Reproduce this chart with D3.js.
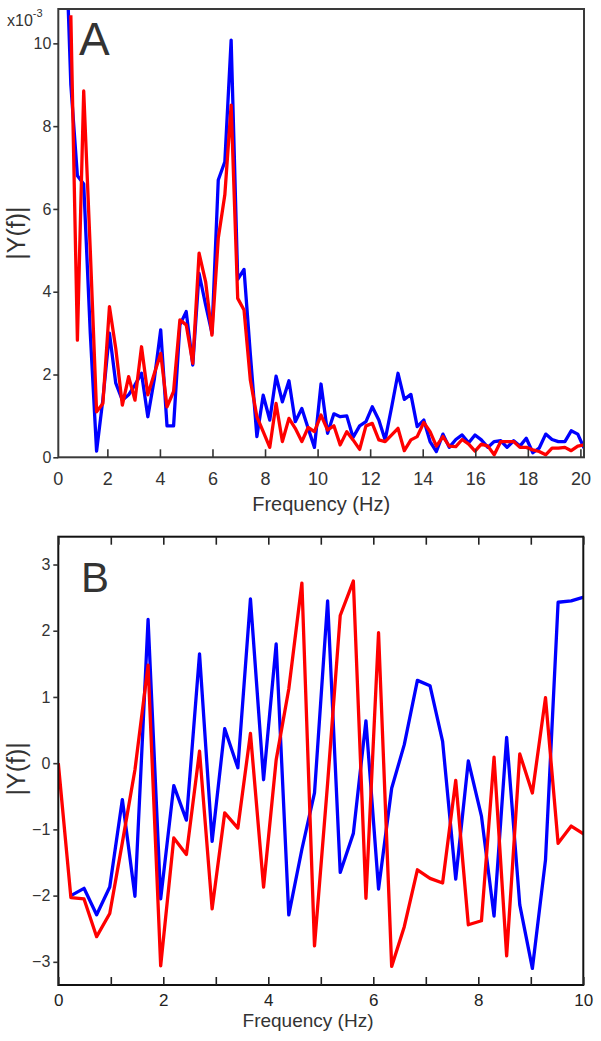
<!DOCTYPE html>
<html><head><meta charset="utf-8">
<script src="https://cdn.jsdelivr.net/npm/d3@7"></script>
<style>body{margin:0;background:#fff}svg{display:block}</style>
</head><body>
<svg id="c" width="601" height="1041"></svg>
<script>
// ---------- Panel A data (|Y(f)| x10^-3) ----------
const freqA = [0.37,0.61,0.86,1.10,1.35,1.59,1.83,2.08,2.32,2.57,2.81,3.05,3.30,3.54,3.79,4.03,4.27,4.52,4.76,5.00,
  5.25,5.49,5.74,5.98,6.22,6.47,6.71,6.96,7.20,7.44,7.69,7.93,8.18,8.42,8.66,8.91,9.15,9.40,9.64,9.88,
  10.13,10.38,10.62,10.86,11.11,11.35,11.60,11.84,12.08,12.33,12.57,12.82,13.06,13.30,13.55,13.79,14.04,14.28,14.52,14.77,
  15.01,15.26,15.50,15.75,15.99,16.23,16.48,16.72,16.97,17.21,17.46,17.70,17.94,18.19,18.43,18.68,18.92,19.16,19.41,19.65,19.90,20.14];
const blueA = [13.5,9.0,6.8,6.6,3.0,0.15,1.4,3.00,1.79,1.38,1.51,1.75,2.03,0.98,1.9,3.08,0.76,0.76,3.20,3.52,
  2.23,4.44,3.68,3.00,6.70,7.14,10.08,4.3,4.54,2.5,0.50,1.50,0.90,1.96,1.34,1.85,0.86,1.18,0.70,0.24,
  1.77,0.58,1.05,0.98,1.00,0.48,0.76,0.86,1.22,0.90,0.42,1.22,2.03,1.40,1.52,0.74,0.90,0.38,0.14,0.56,
  0.24,0.43,0.54,0.35,0.54,0.42,0.24,0.38,0.40,0.24,0.40,0.27,0.46,0.11,0.22,0.56,0.43,0.38,0.38,0.64,0.56,0.22];
const redA = [null,10.68,2.83,8.85,5.0,1.10,1.30,3.64,2.63,1.26,1.95,1.38,2.67,1.51,2.03,2.51,1.22,1.59,3.32,3.20,
  2.27,4.93,4.24,2.95,5.29,6.34,8.51,3.84,3.56,1.87,0.98,0.62,0.24,1.30,0.38,0.94,0.70,0.38,0.72,0.62,
  1.02,0.66,0.76,0.30,0.62,0.42,0.19,0.76,0.82,0.42,0.38,0.54,0.70,0.16,0.42,0.50,0.84,0.62,0.27,0.50,
  0.27,0.26,0.43,0.32,0.15,0.32,0.27,0.06,0.38,0.38,0.38,0.24,0.24,0.18,0.14,0.06,0.22,0.22,0.24,0.16,0.27,0.30];
const xTicksA = [2,4,6,8,10,12,14,16,18,20];
const yTicksA = [0,2,4,6,8,10];

// ---------- Panel B data ----------
const freqB = [0,0.24,0.49,0.73,0.98,1.22,1.46,1.71,1.95,2.20,2.44,2.69,2.93,3.17,3.42,3.66,3.91,4.15,4.39,4.64,4.88,
  5.13,5.37,5.62,5.86,6.10,6.35,6.59,6.84,7.08,7.32,7.57,7.81,8.06,8.30,8.54,8.79,9.03,9.28,9.52,9.77,10.01];
const blueB = [null,-2.0,-1.89,-2.29,-1.87,-0.55,-2.01,2.17,-2.05,-0.34,-0.86,1.65,-1.18,0.52,-0.07,2.48,-0.25,1.80,-2.29,-1.3,-0.45,
  2.45,-1.65,-1.06,0.64,-1.90,-0.38,0.28,1.25,1.17,0.33,-1.75,0.035,-0.80,-2.31,0.39,-2.14,-3.10,-1.46,2.43,2.45,2.51];
const redB = [0,-2.03,-2.05,-2.62,-2.27,-1.2,-0.1,1.48,-3.06,-1.13,-1.38,0.18,-2.20,-0.75,-0.98,0.45,-1.87,0.05,1.12,2.72,-2.76,
  -0.3,2.23,2.75,-2.04,1.97,-3.07,-2.47,-1.61,-1.74,-1.81,-0.26,-2.44,-2.38,0.09,-2.91,0.14,-0.45,0.99,-1.21,-0.95,-1.07];
const xTicksB = [0,1,2,3,4,5,6,7,8,9,10];
const yTicksB = [-3,-2,-1,0,1,2,3];

const FONT = '"Liberation Sans", Arial, Helvetica, sans-serif';
const svg = d3.select('#c');

function panel(o){
  const g = svg.append('g');
  const {L,T,R,B} = o.frame;
  const clipId = 'clip' + o.name;
  svg.append('defs').append('clipPath').attr('id', clipId)
    .append('rect').attr('x', L).attr('y', T).attr('width', R-L).attr('height', B-T);

  const lineGen = d3.line().defined(d => d[1] != null)
    .x(d => o.x(d[0])).y(d => o.y(d[1]));
  const lg = g.append('g').attr('clip-path', `url(#${clipId})`);
  o.series.forEach(s => {
    lg.append('path')
      .datum(o.freq.map((f,i) => [f, s.values[i]]))
      .attr('d', lineGen)
      .attr('fill','none').attr('stroke', s.color).attr('stroke-width', 3.3)
      .attr('stroke-linejoin','round');
  });
  return g;
}

function styleAxis(sel, color, fs){
  sel.select('.domain').remove();
  sel.selectAll('.tick line').attr('stroke', color).attr('stroke-width', 1.6);
  sel.selectAll('.tick text').attr('fill', color).style('font-family', FONT).style('font-size', fs + 'px');
}

// ================= Panel A =================
const fA = {L:58.3, T:9, R:584, B:457.3};
const xA = d3.scaleLinear().domain([0,20]).range([54.8, 580.4]);
const yA = d3.scaleLinear().domain([0,10.83]).range([fA.B, fA.T]);
const gA = panel({name:'A', frame:fA, x:xA, y:yA, freq:freqA,
  series:[{values:blueA, color:'#0000ff'},{values:redA, color:'#ff0000'}]});

gA.append('rect').attr('x', fA.L).attr('y', fA.T).attr('width', fA.R-fA.L).attr('height', fA.B-fA.T)
  .attr('fill','none').attr('stroke','#3a3a3a').attr('stroke-width', 2);

const axA_b = gA.append('g').attr('transform', `translate(0,${fA.B})`)
  .call(d3.axisBottom(xA).tickValues(xTicksA).tickSize(-8).tickPadding(15).tickFormat(d3.format('d')));
styleAxis(axA_b, '#333', 18);
gA.append('text').attr('x', fA.L).attr('y', fA.B + 15).attr('dy','0.71em')
  .attr('text-anchor','middle').attr('fill','#333').style('font-family',FONT).style('font-size','18px').text('0');

const axA_l = gA.append('g').attr('transform', `translate(${fA.L},0)`)
  .call(d3.axisLeft(yA).tickValues(yTicksA).tickSize(5).tickPadding(2).tickFormat(d3.format('d')));
styleAxis(axA_l, '#333', 16);

gA.append('text').attr('x', 7).attr('y', 26).attr('fill','#333')
  .style('font-family',FONT).style('font-size','16px')
  .text('x10').append('tspan').attr('dy', -9).style('font-size','11px').text('-3');

gA.append('text').attr('x', 79).attr('y', 55).attr('fill','#333')
  .style('font-family',FONT).style('font-size','46px').text('A');

gA.append('text').attr('transform', `translate(25,${(fA.T+fA.B)/2}) rotate(-90)`)
  .attr('text-anchor','middle').attr('fill','#333')
  .style('font-family',FONT).style('font-size','25px').text('|Y(f)|');

gA.append('text').attr('x', (fA.L+fA.R)/2).attr('y', 511).attr('text-anchor','middle').attr('fill','#333')
  .style('font-family',FONT).style('font-size','20px').text('Frequency (Hz)');

// ================= Panel B =================
const fB = {L:58.3, T:536.7, R:583.3, B:985};
const xB = d3.scaleLinear().domain([0,10]).range([fB.L, fB.R]);
const yB = d3.scaleLinear().domain([-3.35,3.42]).range([fB.B, fB.T]);
const gB = panel({name:'B', frame:fB, x:xB, y:yB, freq:freqB,
  series:[{values:blueB, color:'#0000ff'},{values:redB, color:'#ff0000'}]});

gB.append('rect').attr('x', fB.L).attr('y', fB.T).attr('width', fB.R-fB.L).attr('height', fB.B-fB.T)
  .attr('fill','none').attr('stroke','#111').attr('stroke-width', 2);

const axB_b = gB.append('g').attr('transform', `translate(0,${fB.B})`)
  .call(d3.axisBottom(xB).tickValues(xTicksB).tickSize(-8).tickPadding(9)
    .tickFormat(d => d % 2 === 0 ? d3.format('d')(d) : ''));
styleAxis(axB_b, '#222', 17);
const axB_t = gB.append('g').attr('transform', `translate(0,${fB.T})`)
  .call(d3.axisTop(xB).tickValues(xTicksB).tickSize(-8).tickFormat(''));
styleAxis(axB_t, '#222', 17);
const axB_l = gB.append('g').attr('transform', `translate(${fB.L},0)`)
  .call(d3.axisLeft(yB).tickValues(yTicksB).tickSize(5).tickPadding(3).tickFormat(d3.format('d')));
styleAxis(axB_l, '#333', 16);

gB.append('text').attr('x', 81).attr('y', 592).attr('fill','#333')
  .style('font-family',FONT).style('font-size','42px').text('B');

gB.append('text').attr('transform', `translate(25,${(fB.T+fB.B)/2 + 8}) rotate(-90)`)
  .attr('text-anchor','middle').attr('fill','#333')
  .style('font-family',FONT).style('font-size','25px').text('|Y(f)|');

gB.append('text').attr('x', 308).attr('y', 1027).attr('text-anchor','middle').attr('fill','#333')
  .style('font-family',FONT).style('font-size','19px').text('Frequency (Hz)');
</script>
</body></html>
